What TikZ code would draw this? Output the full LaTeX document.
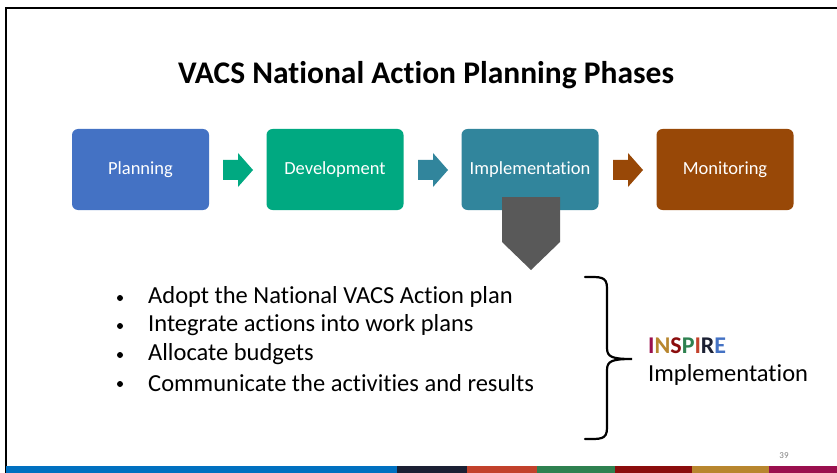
\documentclass[tikz,border=0pt]{standalone}
\usepackage{fontspec}
\setmainfont[Ligatures=NoCommon]{Carlito}
\usetikzlibrary{positioning}
\definecolor{cplan}{HTML}{4472C4}
\definecolor{cdev}{HTML}{00A981}
\definecolor{cimpl}{HTML}{31859C}
\definecolor{cmon}{HTML}{984807}
\definecolor{cgray}{HTML}{595959}
\definecolor{bblue}{HTML}{0070C0}
\definecolor{bnavy}{HTML}{1B2033}
\definecolor{bred}{HTML}{C2412B}
\definecolor{bgreen}{HTML}{2E8150}
\definecolor{bdred}{HTML}{8B0D0D}
\definecolor{bgold}{HTML}{B8862E}
\definecolor{bmag}{HTML}{9A0F4E}
\tikzset{
  phase/.style={draw=none, fill=#1, rounded corners=6pt, minimum width=137pt, minimum height=81pt, text=white, font=\fontsize{18.5}{22}\selectfont, inner sep=0pt},
  blockarrow/.style={fill=#1, draw=none},
  bullettext/.style={anchor=west, font=\fontsize{24.5}{28}\selectfont, inner sep=0pt},
}
\begin{document}
\begin{tikzpicture}[x=1pt, y=-1pt]
\useasboundingbox (0,0) rectangle (837,473);
\fill[white] (0,0) rectangle (837,473);
% frame
\draw[line width=2pt] (6,473) -- (6,8) -- (837,8);
% bottom bar
\fill[bblue] (6,466) rectangle (397,473);
\fill[bnavy] (397,466) rectangle (467,473);
\fill[bred] (467,466) rectangle (537,473);
\fill[bgreen] (537,466) rectangle (615,473);
\fill[bdred] (615,466) rectangle (692,473);
\fill[bgold] (692,466) rectangle (769,473);
\fill[bmag] (769,466) rectangle (837,473);
\node[text=gray, font=\fontsize{9}{10}\selectfont, inner sep=0pt] (pnum) at (784,456) {39};
% title
\node[font=\bfseries\fontsize{31.5}{36}\selectfont, inner sep=0pt] (title) at (426,75) {VACS National Action Planning Phases};
% phases
\node[phase=cplan] (plan) at (140.5,169.5) {Planning};
\node[phase=cdev] (dev) at (335,169.5) {Development};
\node[phase=cimpl] (impl) at (530,169.5) {Implementation};
\node[phase=cmon] (mon) at (725,169.5) {Monitoring};
% block arrows
\fill[blockarrow=cdev] (223,160) -- (238,160) -- (238,153) -- (253,170) -- (238,187) -- (238,180) -- (223,180) -- cycle;
\fill[blockarrow=cimpl] (418,160) -- (433,160) -- (433,153) -- (448,170) -- (433,187) -- (433,180) -- (418,180) -- cycle;
\fill[blockarrow=cmon] (613,160) -- (628,160) -- (628,153) -- (643,170) -- (628,187) -- (628,180) -- (613,180) -- cycle;
% down arrow
\fill[cgray] (502,197) -- (560,197) -- (560,242) -- (531,270) -- (502,242) -- cycle;
% bullets
\node[bullettext] (b1) at (148,297) {Adopt the National VACS Action plan};
\node[bullettext] (b2) at (148,325) {Integrate actions into work plans};
\node[bullettext] (b3) at (148,354) {Allocate budgets};
\node[bullettext] (b4) at (148,383) {Communicate the activities and results};
\foreach \n in {b1,b2,b3,b4} \fill (120,0 |- \n.west) ++(0,1) circle (3pt);
% brace
\draw[line width=2.2pt, line cap=round]
  (585,277) .. controls (600,277) and (607,276) .. (607,288)
  -- (607,348) .. controls (607,357) and (612,359) .. (632,359)
  .. controls (612,359) and (607,361) .. (607,370)
  -- (607,428) .. controls (607,440) and (600,439) .. (585,439);
% INSPIRE
\node[anchor=west, inner sep=0pt, font=\bfseries\fontsize{24}{28}\selectfont] (insp) at (648,346)
 {\textcolor{bmag}{I}\textcolor{bgold}{N}\textcolor{bdred}{S}\textcolor{bgreen}{P}\textcolor{bred}{I}\textcolor{bnavy}{R}\textcolor{cplan}{E}};
\node[anchor=west, inner sep=0pt, font=\fontsize{24.5}{28}\selectfont] (implt) at (648,375) {Implementation};
\end{tikzpicture}
\end{document}
